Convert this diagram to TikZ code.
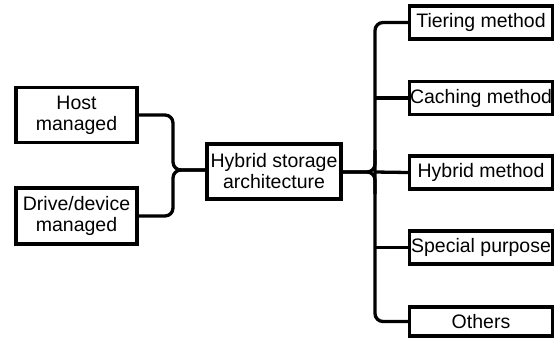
\documentclass[tikz,border=0pt]{standalone}
\usepackage{fontspec}
\setmainfont{Liberation Sans}
\begin{document}
\begin{tikzpicture}[x=1pt,y=-1pt,
  box/.style={draw=black,line width=3.3pt,fill=white,align=center,inner sep=0pt,
    font=\fontsize{19.5}{21}\selectfont},
  leaf/.style={box,minimum width=143pt,minimum height=33pt},
  link/.style={line width=3.3pt,rounded corners=8pt,line join=round}]
\useasboundingbox (0,0) rectangle (557,341);
% left-hand management styles
\node[box,minimum width=121pt,minimum height=55pt] (host) at (76.5,115) {Host\\managed};
\node[box,minimum width=121pt,minimum height=56pt] (drive) at (76.5,216) {Drive/device\\managed};
% central node
\node[box,minimum width=134pt,minimum height=55pt] (hsa) at (274,171.5) {Hybrid storage\\architecture};
% right-hand categories
\node[leaf] (tier) at (481,22.5) {Tiering method};
\node[leaf] (cach) at (481,98) {Caching method};
\node[leaf] (hyb) at (481,172.5) {Hybrid method};
\node[leaf] (spec) at (481,247.5) {Special purpose};
\node[leaf,minimum height=29pt] (oth) at (481,321.5) {Others};
% brace joining the two management styles
\coordinate (lj) at (173,170);
\draw[link] (host.east) -- (host.east -| lj) -- (lj) -- (hsa.west |- lj);
\draw[link] (drive.east) -- (drive.east -| lj) -- (lj) -- (hsa.west |- lj);
% trunk feeding the categories
\coordinate (rj) at (375,172);
\draw[link] (tier.west) -- (tier.west -| rj) -- (oth.west -| rj) -- (oth.west);
\draw[link] (rj |- 0,150) -- (rj) -- (hsa.east |- rj);
\draw[link] (rj |- 0,194) -- (rj) -- (hsa.east |- rj);
\draw[link] (cach.west -| rj) -- (cach.west);
\draw[link] (rj) -- (hyb.west);
\draw[link] (spec.west -| rj) -- (spec.west);
\end{tikzpicture}
\end{document}
